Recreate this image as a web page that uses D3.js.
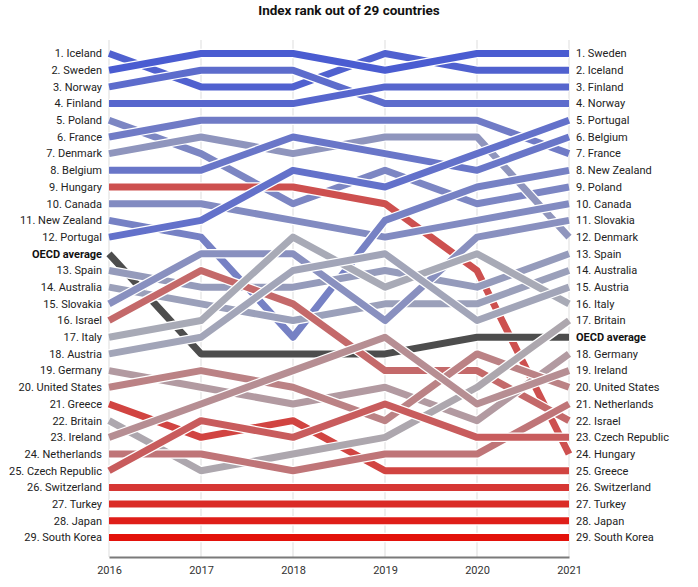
<!DOCTYPE html>
<html>
<head>
<meta charset="utf-8">
<script src="https://cdn.jsdelivr.net/npm/d3@7"></script>
<style>
  html, body { margin: 0; padding: 0; background: #fff; }
  svg { display: block; }
  text { font-family: Roboto, "Noto Sans", sans-serif; }
</style>
</head>
<body>
<div id="chart"></div>
<script>
// ---------------- DATA ----------------
const years = [2016, 2017, 2018, 2019, 2020, 2021];
const title = "Index rank out of 29 countries";
const oecdLabel = "OECD average";

// Ranking lists for each year (rank 1 first)
const order2016 = ["Iceland","Sweden","Norway","Finland","Poland","France","Denmark","Belgium","Hungary","Canada","New Zealand","Portugal","Spain","Australia","Slovakia","Israel","Italy","Austria","Germany","United States","Greece","Britain","Ireland","Netherlands","Czech Republic","Switzerland","Turkey","Japan","South Korea"];
const order2017 = ["Sweden","Norway","Iceland","Finland","France","Denmark","Poland","Belgium","Hungary","Canada","Portugal","New Zealand","Slovakia","Israel","Spain","Australia","Italy","Austria","United States","Germany","Ireland","Czech Republic","Greece","Netherlands","Britain","Switzerland","Turkey","Japan","South Korea"];
const order2018 = ["Sweden","Norway","Iceland","Finland","France","Belgium","Denmark","Portugal","Hungary","Poland","Canada","Italy","Slovakia","Austria","Spain","Israel","Australia","New Zealand","Ireland","United States","Germany","Greece","Czech Republic","Britain","Netherlands","Switzerland","Turkey","Japan","South Korea"];
const order2019 = ["Iceland","Sweden","Finland","Norway","France","Denmark","Belgium","Poland","Portugal","Hungary","New Zealand","Canada","Austria","Spain","Italy","Australia","Slovakia","Ireland","Israel","Germany","Czech Republic","United States","Britain","Netherlands","Greece","Switzerland","Turkey","Japan","South Korea"];
const order2020 = ["Sweden","Iceland","Finland","Norway","France","Denmark","Portugal","Belgium","New Zealand","Poland","Canada","Slovakia","Italy","Hungary","Spain","Australia","Austria","United States","Israel","Britain","Ireland","Germany","Czech Republic","Netherlands","Greece","Switzerland","Turkey","Japan","South Korea"];
const order2021 = ["Sweden","Iceland","Finland","Norway","Portugal","Belgium","France","New Zealand","Poland","Canada","Slovakia","Denmark","Spain","Australia","Austria","Italy","Britain","Germany","Ireland","United States","Netherlands","Israel","Czech Republic","Hungary","Greece","Switzerland","Turkey","Japan","South Korea"];
// OECD average sits just below this rank in each year
const oecdAfterRank = [12, 18, 18, 18, 17, 17];

// ---------------- LAYOUT ----------------
const W = 698, H = 587;
const margin = { top: 53.5, left: 109, right: 129, bottom: 49.5 };
const orders = [order2016, order2017, order2018, order2019, order2020, order2021];
const nSlots = order2016.length + 1;

const x = d3.scalePoint().domain(years).range([margin.left, W - margin.right]);
const y = d3.scaleLinear().domain([0, nSlots - 1]).range([margin.top, H - margin.bottom]);

// slot index (0-based, OECD row counted) of a country in year i
function slotOf(name, i) {
  const r = orders[i].indexOf(name) + 1;
  return r - 1 + (r > oecdAfterRank[i] ? 1 : 0);
}
const oecdSlot = i => oecdAfterRank[i];

const color = d3.scaleLinear()
  .domain([1, 16.5, 29])
  .range(["#4a5cd1", "#abadb5", "#e3120b"])
  .interpolate(d3.interpolateRgb);

const svg = d3.select("#chart").append("svg").attr("width", W).attr("height", H);

// title
svg.append("text")
  .attr("x", 349).attr("y", 15)
  .attr("text-anchor", "middle")
  .attr("font-size", 13.5).attr("font-weight", 700).attr("fill", "#111")
  .text(title);

// grid lines
svg.append("g").selectAll("line").data(years).join("line")
  .attr("x1", d => x(d)).attr("x2", d => x(d))
  .attr("y1", 40).attr("y2", 557)
  .attr("stroke", "#e3e3e3").attr("stroke-width", 1.2);

// axis
const axis = svg.append("g").attr("transform", "translate(0,557)")
  .call(d3.axisBottom(x).tickSize(0).tickPadding(9));
axis.select(".domain").attr("stroke", "#7a7a7a").attr("stroke-width", 2);
axis.selectAll("text").attr("font-size", 11).attr("fill", "#333")
  .attr("font-family", "'Liberation Sans Narrow', 'DejaVu Sans Condensed', sans-serif");

const line = d3.line().x(d => x(d.year)).y(d => y(d.slot));

// series
const series = order2016.map(name => ({
  name,
  finalRank: order2021.indexOf(name) + 1,
  pts: years.map((yr, i) => ({ year: yr, slot: slotOf(name, i) }))
}));
// insert OECD after its 2016 position
const oecdSeries = { name: oecdLabel, oecd: true, pts: years.map((yr, i) => ({ year: yr, slot: oecdSlot(i) })) };
const drawList = series.slice(0, oecdAfterRank[0]).concat([oecdSeries], series.slice(oecdAfterRank[0]));

const lg = svg.append("g");
drawList.forEach(s => {
  const g = lg.append("g");
  g.append("path").attr("d", line(s.pts)).attr("fill", "none")
    .attr("stroke", "#fff").attr("stroke-width", 9.5).attr("stroke-linejoin", "round");
  g.append("path").attr("d", line(s.pts)).attr("fill", "none")
    .attr("stroke", s.oecd ? "#4d4d4d" : color(s.finalRank))
    .attr("stroke-width", 7).attr("stroke-linejoin", "round");
});

// labels
function labels(order, i, xPos, anchor) {
  const rows = order.map((n, k) => ({ text: (k + 1) + ". " + n, slot: slotOf(n, i), bold: false }));
  rows.push({ text: oecdLabel, slot: oecdSlot(i), bold: true });
  svg.append("g").selectAll("text").data(rows).join("text")
    .attr("x", xPos).attr("y", d => y(d.slot)).attr("dy", "0.35em")
    .attr("text-anchor", anchor)
    .attr("font-size", 11)
    .attr("font-weight", d => d.bold ? 700 : 400)
    .attr("fill", d => d.bold ? "#111" : "#222")
    .text(d => d.text);
}
labels(order2016, 0, 102, "end");
labels(order2021, 5, 576, "start");
</script>
</body>
</html>
